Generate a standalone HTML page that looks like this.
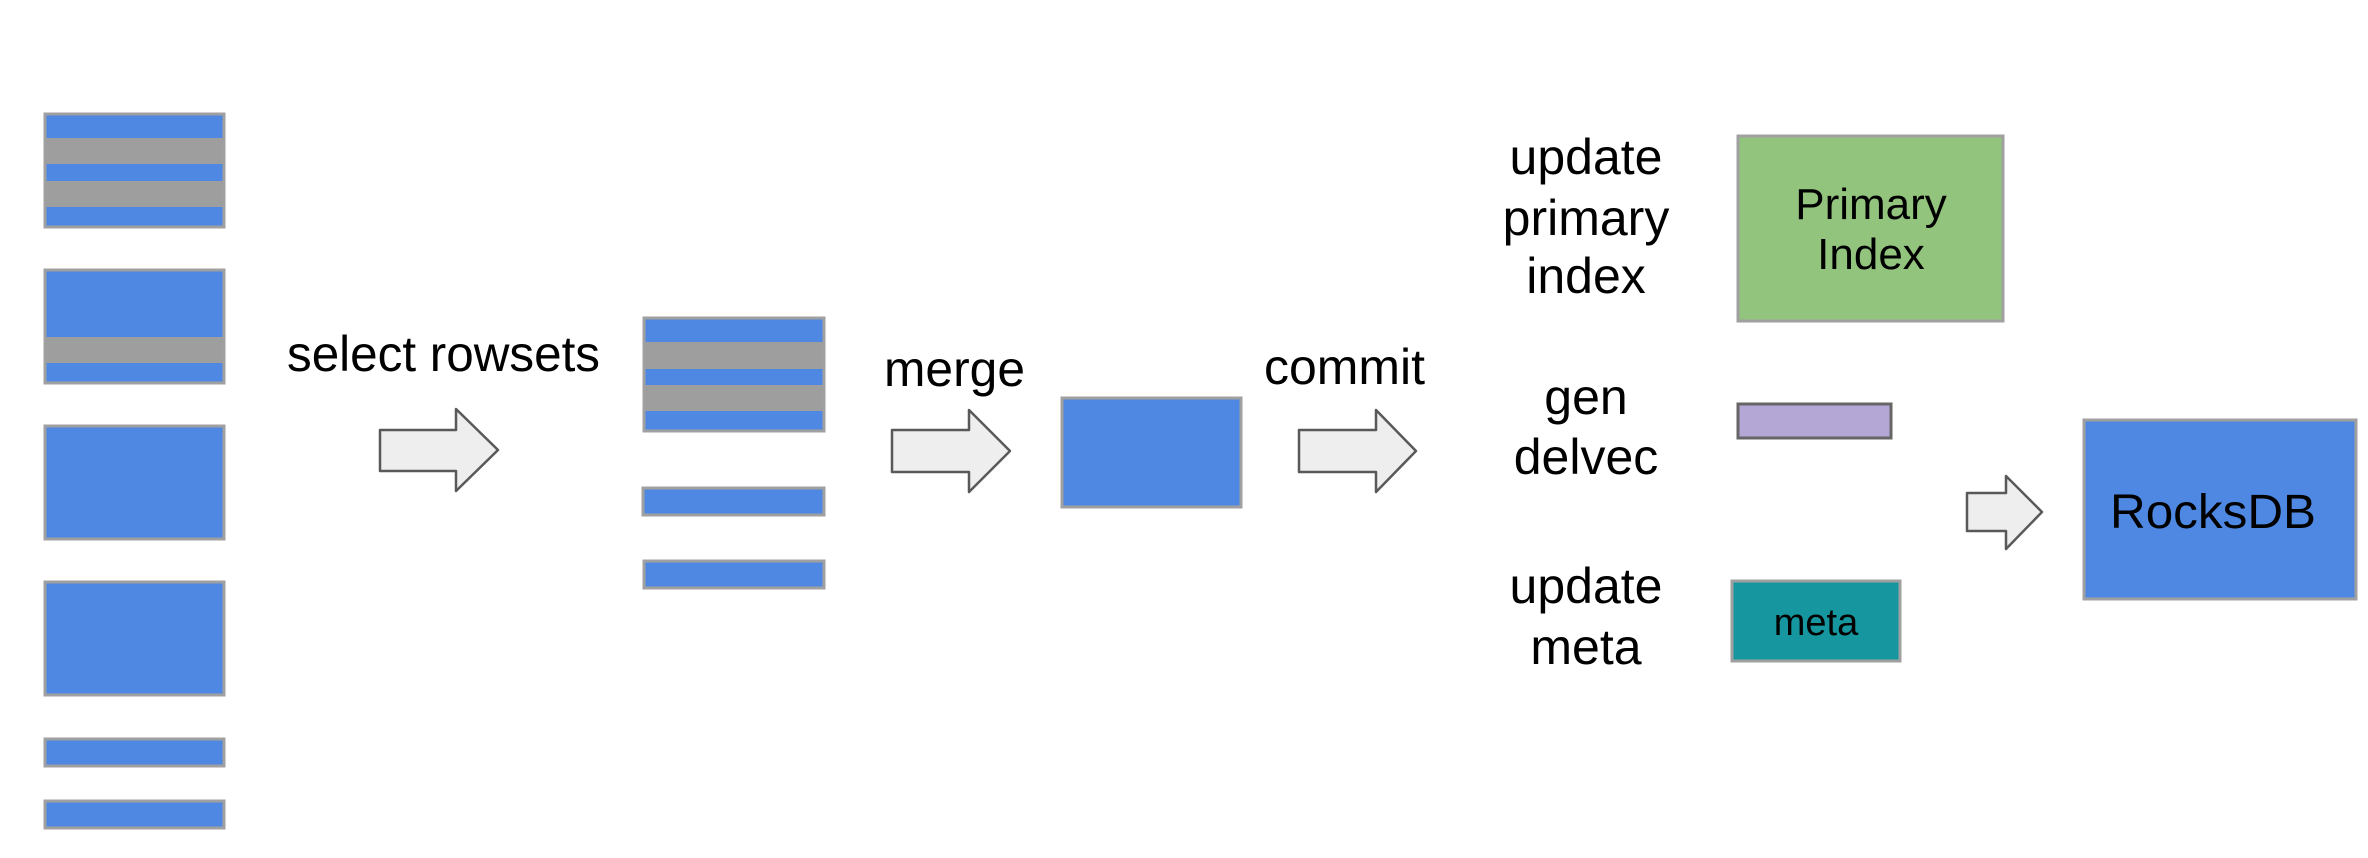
<!DOCTYPE html>
<html><head><meta charset="utf-8"><style>html,body{margin:0;padding:0;background:#fff}svg{display:block}</style></head>
<body>
<svg width="2368" height="858" viewBox="0 0 2368 858" xmlns="http://www.w3.org/2000/svg" font-family="Liberation Sans, Arial, sans-serif">
<g stroke="#a0a0a0" stroke-width="3">
<rect x="45" y="114" width="179" height="113" fill="#4e88e2"/>
<rect x="45" y="270" width="179" height="113" fill="#4e88e2"/>
<rect x="45" y="426" width="179" height="113" fill="#4e88e2"/>
<rect x="45" y="582" width="179" height="113" fill="#4e88e2"/>
<rect x="45" y="739" width="179" height="27" fill="#4e88e2"/>
<rect x="45" y="801" width="179" height="27" fill="#4e88e2"/>
</g>
<g fill="#9e9e9e">
<rect x="46" y="138" width="177" height="26"/>
<rect x="46" y="181" width="177" height="26"/>
<rect x="46" y="337" width="177" height="26"/>
</g>
<g stroke="#a0a0a0" stroke-width="3">
<rect x="644" y="318" width="180" height="113" fill="#4e88e2"/>
<rect x="643" y="488" width="181" height="27" fill="#4e88e2"/>
<rect x="644" y="561" width="180" height="27" fill="#4e88e2"/>
<rect x="1062" y="398" width="179" height="109" fill="#4e88e2"/>
<rect x="1738" y="136" width="265" height="185" fill="#93c47d"/>
<rect x="1738" y="404" width="153" height="34" fill="#b4a7d6" stroke="#666"/>
<rect x="1732" y="581" width="168" height="80" fill="#16979f"/>
<rect x="2084" y="420" width="272" height="179" fill="#4e88e2"/>
</g>
<g fill="#9e9e9e">
<rect x="645" y="342" width="178" height="27"/>
<rect x="645" y="385" width="178" height="26"/>
</g>
<g fill="#eeeeee" stroke="#595959" stroke-width="2.5" stroke-linejoin="round">
<polygon points="380,430 456,430 456,409 498,450 456,491 456,471 380,471"/>
<polygon points="892,430 969,430 969,410 1010,451 969,492 969,472 892,472"/>
<polygon points="1299,430 1376,430 1376,410 1416,451 1376,492 1376,472 1299,472"/>
<polygon points="1967,493 2006,493 2006,476 2042,512 2006,549 2006,531 1967,531"/>
</g>
<g fill="#000" font-size="50">
<text x="287" y="371" textLength="313" lengthAdjust="spacingAndGlyphs">select rowsets</text>
<text x="884" y="386" textLength="141" lengthAdjust="spacingAndGlyphs">merge</text>
<text x="1264" y="384" textLength="161" lengthAdjust="spacingAndGlyphs">commit</text>
<g text-anchor="middle">
<text x="1586" y="174">update</text>
<text x="1586" y="235">primary</text>
<text x="1586" y="293">index</text>
<text x="1586" y="414">gen</text>
<text x="1586" y="474">delvec</text>
<text x="1586" y="603">update</text>
<text x="1586" y="664">meta</text>
<text x="1871" y="219" font-size="44">Primary</text>
<text x="1871" y="269" font-size="44">Index</text>
<text x="1816" y="635" font-size="38">meta</text>
</g>
<text x="2110" y="528" font-size="48" textLength="206" lengthAdjust="spacingAndGlyphs">RocksDB</text>
</g>
</svg>
</body></html>
